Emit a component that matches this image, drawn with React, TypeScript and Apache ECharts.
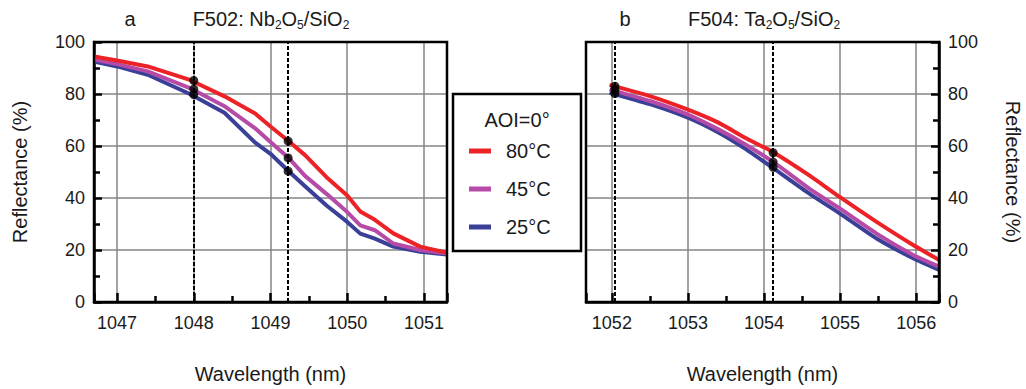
import { useEffect, useRef } from 'react';
import * as echarts from 'echarts';

// ---------- data ----------
const legendNames = ['80°C', '45°C', '25°C'];

// Panel a: F502 Nb2O5/SiO2
const waveA = [1046.7, 1047.0, 1047.4, 1047.95, 1048.4, 1048.8, 1049.0, 1049.23, 1049.45, 1049.73, 1050.0, 1050.17, 1050.36, 1050.6, 1050.95, 1051.3];
const red80A = [94.4, 92.9, 90.6, 85.4, 79.1, 72.5, 67.5, 62.0, 56.5, 48.0, 41.0, 34.8, 31.6, 26.4, 21.3, 19.0];
const mag45A = [93.3, 91.5, 88.7, 82.3, 75.3, 66.8, 61.5, 55.6, 48.5, 41.6, 34.6, 29.5, 27.6, 22.5, 20.0, 18.6];
const blue25A = [92.5, 90.6, 87.4, 80.0, 72.8, 61.3, 57.0, 50.5, 44.5, 37.1, 30.8, 26.3, 24.4, 21.3, 19.3, 18.3];
const markA = [1048, 1049.23];
const dotWaveA = [1048, 1048, 1048, 1049.23, 1049.23, 1049.23];
const dotValA = [85.2, 81.9, 79.8, 61.9, 55.4, 50.3];

// Panel b: F504 Ta2O5/SiO2
const waveB = [1051.97, 1052.5, 1053.0, 1053.4, 1053.75, 1054.12, 1054.6, 1055.0, 1055.48, 1055.96, 1056.3];
const red80B = [83.5, 79.2, 74.0, 69.0, 63.2, 57.6, 48.6, 40.3, 30.8, 21.9, 16.2];
const mag45B = [81.8, 77.3, 72.1, 66.4, 60.7, 53.9, 43.5, 35.9, 26.3, 18.1, 13.6];
const blue25B = [80.5, 76.1, 70.9, 65.2, 59.0, 51.5, 41.6, 34.0, 24.4, 16.8, 12.3];
const markB = [1052.04, 1054.12];
const dotWaveB = [1052.04, 1052.04, 1052.04, 1054.12, 1054.12, 1054.12];
const dotValB = [83.0, 81.6, 80.2, 57.4, 53.8, 51.8];

const xRangeA = [1046.7, 1051.3];
const xRangeB = [1051.66, 1056.3];
const yTicks = { min: 0, max: 100, interval: 20 };

// ---------- styles ----------
const FONT = "'Liberation Sans', Arial, Helvetica, sans-serif";
const TXT = '#1a1a1a';
const COLORS = { r: '#ec2227', m: '#b64ba7', b: '#3a3f97' };
const GRIDC = '#858585';

const pair = (xs: number[], ys: number[]) => xs.map((x, i) => [x, ys[i]]);

function xAxisOpt(gridIndex: number, range: number[]) {
  return {
    type: 'value', gridIndex, min: range[0], max: range[1], minInterval: 1, maxInterval: 1,
    name: 'Wavelength (nm)', nameLocation: 'middle', nameGap: 62,
    nameTextStyle: { fontSize: 20, color: TXT, fontFamily: FONT, lineHeight: 20 },
    axisLine: { show: true, onZero: false, lineStyle: { color: '#000', width: 2.5 } },
    axisTick: { show: true, inside: true, length: 9, lineStyle: { color: '#000', width: 2.5 } },
    minorTick: { show: true, splitNumber: 2, length: 6, lineStyle: { color: '#000', width: 2.5 } },
    axisLabel: {
      fontSize: 18, color: TXT, fontFamily: FONT, margin: 12, lineHeight: 18,
      formatter: (v: number) => (Math.abs(v - Math.round(v)) < 1e-6 ? String(Math.round(v)) : ''),
    },
    splitLine: { show: true, showMinLine: false, showMaxLine: false, lineStyle: { color: GRIDC, width: 1.5 } },
  };
}

function yAxisOpt(gridIndex: number, position: 'left' | 'right') {
  return {
    type: 'value', gridIndex, position, min: yTicks.min, max: yTicks.max, interval: yTicks.interval,
    name: 'Reflectance (%)', nameLocation: 'middle', nameGap: 64,
    nameRotate: position === 'right' ? -90 : 90,
    nameTextStyle: { fontSize: 20, color: TXT, fontFamily: FONT, lineHeight: 20 },
    axisLine: { show: true, onZero: false, lineStyle: { color: '#000', width: 2.5 } },
    axisTick: { show: true, inside: true, length: 8, lineStyle: { color: '#000', width: 2.5 } },
    minorTick: { show: true, splitNumber: 2, length: 6, lineStyle: { color: '#000', width: 2.5 } },
    axisLabel: { fontSize: 18, color: TXT, fontFamily: FONT, margin: 9 },
    splitLine: { show: true, showMinLine: false, showMaxLine: false, lineStyle: { color: GRIDC, width: 1.5 } },
  };
}

function lineSeries(name: string, color: string, data: number[][], idx: number, smooth: number) {
  return {
    type: 'line', name, xAxisIndex: idx, yAxisIndex: idx, data, smooth,
    showSymbol: false, symbol: 'none',
    lineStyle: { color, width: 4 }, itemStyle: { color }, z: 3,
  };
}

function dotSeries(idx: number, xs: number[], ys: number[], marks: number[]) {
  return {
    type: 'scatter', xAxisIndex: idx, yAxisIndex: idx, data: pair(xs, ys),
    symbolSize: 9, itemStyle: { color: '#000' }, z: 5,
    markLine: {
      silent: true, symbol: ['none', 'none'], label: { show: false },
      lineStyle: { color: '#000', width: 2, type: [4, 2] },
      data: marks.map((m) => ({ xAxis: m })),
    },
  };
}

const titleRich = {
  n: { fontSize: 20, fontFamily: FONT, fill: TXT, lineHeight: 24 },
  s: { fontSize: 12, fontFamily: FONT, fill: TXT, lineHeight: 14, verticalAlign: 'bottom' },
};

function titleText(x: number, text: string) {
  return {
    type: 'text', x, y: 19,
    style: { text, rich: titleRich, align: 'center', verticalAlign: 'middle', fill: TXT, fontSize: 20, fontFamily: FONT },
  };
}

export default function App() {
  const ref = useRef<HTMLDivElement>(null);
  useEffect(() => {
    if (!ref.current) return;
    const chart = echarts.init(ref.current, undefined, { renderer: 'svg' });
    chart.setOption({
      animation: false,
      backgroundColor: '#fff',
      grid: [
        { left: 94, top: 42, width: 353, height: 262, show: true, borderColor: '#000', borderWidth: 2.5, z: 10 },
        { left: 586, top: 42, width: 353, height: 262, show: true, borderColor: '#000', borderWidth: 2.5, z: 10 },
      ],
      xAxis: [xAxisOpt(0, xRangeA), xAxisOpt(1, xRangeB)],
      yAxis: [yAxisOpt(0, 'left'), yAxisOpt(1, 'right')],
      legend: {
        data: legendNames, orient: 'vertical', left: 469, top: 140, padding: 0,
        itemWidth: 22, itemHeight: 5, itemGap: 16, icon: 'rect', selectedMode: false,
        textStyle: { fontSize: 20, color: TXT, fontFamily: FONT, lineHeight: 22, padding: [0, 0, 0, 10] },
      },
      graphic: [
        { type: 'rect', shape: { x: 453, y: 94, width: 128, height: 157 }, style: { fill: '#fff', stroke: '#000', lineWidth: 2.5 }, z: 1 },
        { type: 'text', x: 517, y: 120, z: 2, style: { text: 'AOI=0°', align: 'center', verticalAlign: 'middle', fontSize: 20, fontFamily: FONT, fill: TXT } },
        titleText(130, '{n|a}'),
        titleText(271, '{n|F502: Nb}{s|2}{n|O}{s|5}{n|/SiO}{s|2}'),
        titleText(625, '{n|b}'),
        titleText(764, '{n|F504: Ta}{s|2}{n|O}{s|5}{n|/SiO}{s|2}'),
      ],
      series: [
        lineSeries(legendNames[2], COLORS.b, pair(waveA, blue25A), 0, 0),
        lineSeries(legendNames[1], COLORS.m, pair(waveA, mag45A), 0, 0),
        lineSeries(legendNames[0], COLORS.r, pair(waveA, red80A), 0, 0),
        dotSeries(0, dotWaveA, dotValA, markA),
        lineSeries(legendNames[2], COLORS.b, pair(waveB, blue25B), 1, 0.2),
        lineSeries(legendNames[1], COLORS.m, pair(waveB, mag45B), 1, 0.2),
        lineSeries(legendNames[0], COLORS.r, pair(waveB, red80B), 1, 0.2),
        dotSeries(1, dotWaveB, dotValB, markB),
      ],
    });
    return () => chart.dispose();
  }, []);
  return <div ref={ref} style={{ position: 'fixed', left: 0, top: 0, width: 1026, height: 389 }} />;
}
